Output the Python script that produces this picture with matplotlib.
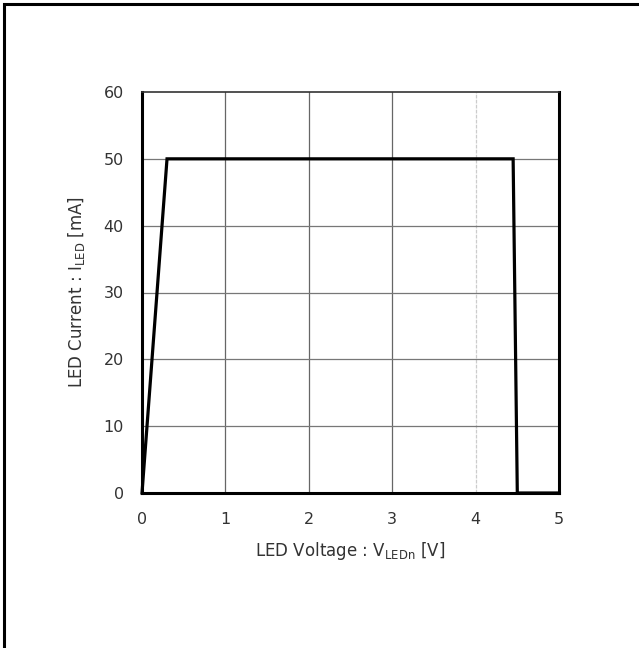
import numpy as np
import matplotlib
matplotlib.use("Agg")
import matplotlib.pyplot as plt
from matplotlib.patches import Rectangle

# ---------------------------------------------------------------------------
# DATA
# ---------------------------------------------------------------------------
voltage = [0.0, 0.3, 4.45, 4.5, 5.0]      # V
current = [0.0, 50.0, 50.0, 0.0, 0.0]     # mA

x_ticks = [0, 1, 2, 3, 4, 5]
y_ticks = [0, 10, 20, 30, 40, 50, 60]

# ---------------------------------------------------------------------------
# PLOT
# ---------------------------------------------------------------------------
plt.rcParams["font.family"] = ["DejaVu Sans"]

fig = plt.figure(figsize=(6.39, 6.48), dpi=100)
W, H = 639, 648
ax = fig.add_axes([142 / W, 1 - 493 / H, (559 - 142) / W, (493 - 92) / H])

# outer frame (only top/left visible in the reference crop)
fig.patches.append(Rectangle((4 / W, -0.1), 1.2, 1 - 4 / H + 0.1,
                             transform=fig.transFigure, fill=False,
                             edgecolor="black", linewidth=2.2))

ax.plot(voltage, current, color="black", linewidth=2.3, solid_joinstyle="miter",
        zorder=3, clip_on=False)

ax.set_xlim(0, 5)
ax.set_ylim(0, 60)
ax.set_xticks(x_ticks)
ax.set_yticks(y_ticks)
ax.tick_params(length=0, labelsize=11.5, colors="#333333")
ax.tick_params(axis="y", pad=13)
ax.tick_params(axis="x", pad=14)

# vertical grid: 4 V line is a faint dotted one in the original
for x in x_ticks[1:-1]:
    if x == 4:
        ax.axvline(x, color="#cccccc", linewidth=0.9, linestyle=(0, (3, 1)), zorder=1)
    else:
        ax.axvline(x, color="#666666", linewidth=0.9, zorder=1)
for y in y_ticks[1:-1]:
    ax.axhline(y, color="#777777", linewidth=0.9, zorder=1)

for s in ax.spines.values():
    s.set_linewidth(2.2)
    s.set_color("black")
ax.spines["top"].set_linewidth(1.2)
ax.spines["top"].set_color("#333333")

ax.set_xlabel(r"LED Voltage : V$_{\mathregular{LEDn}}$ [V]", fontsize=12,
              color="#333333", labelpad=9)
ax.set_ylabel(r"LED Current : I$_{\mathregular{LED}}$ [mA]", fontsize=12,
              color="#333333", labelpad=12)

fig.savefig("out.png", dpi=100, facecolor="white")
